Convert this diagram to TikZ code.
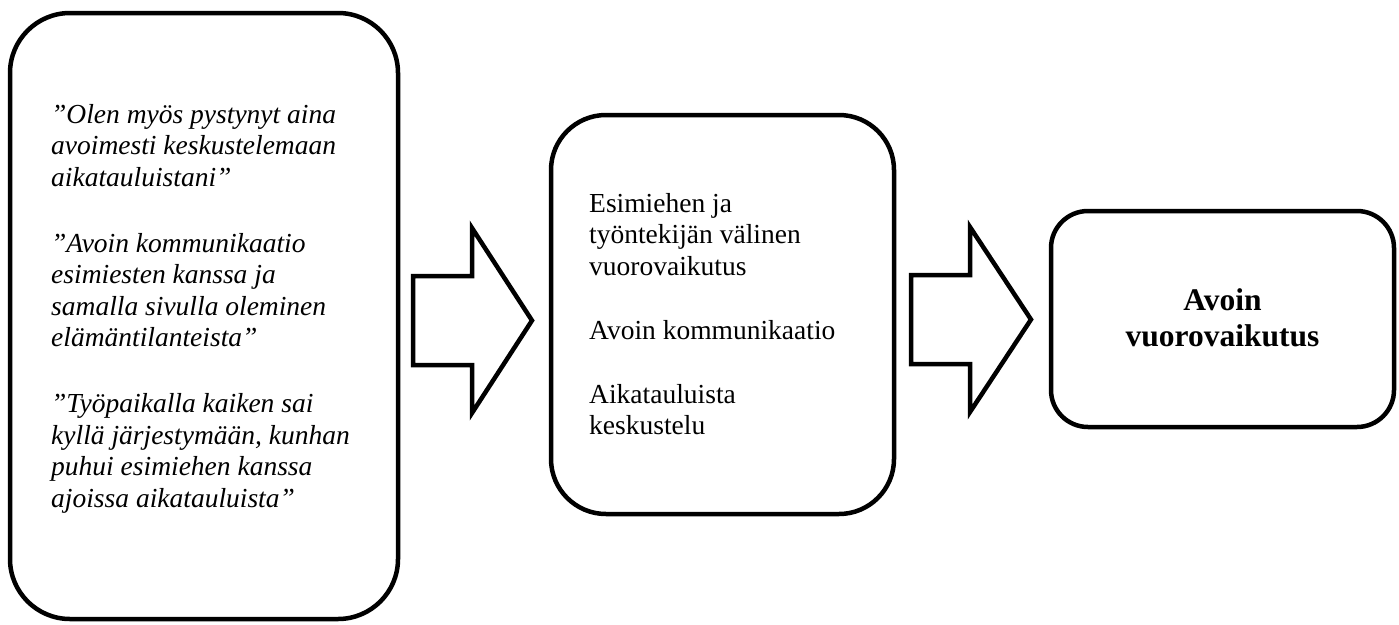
\documentclass[tikz,border=0pt]{standalone}
\usepackage{fontspec}
\setmainfont{Liberation Serif}
\begin{document}
\begin{tikzpicture}[x=1pt,y=-1pt,
  roundbox/.style={draw, line width=4.5pt, inner sep=0pt, fill=white},
  blockarrow/.style={draw, line width=4.5pt, miter limit=10, fill=white},
  quote/.style={inner sep=0pt, anchor=base west, align=left,
    font=\fontsize{27.5pt}{31.5pt}\selectfont\itshape},
  plain/.style={inner sep=0pt, anchor=base west, align=left,
    font=\fontsize{27.5pt}{31.5pt}\selectfont},
  result/.style={inner sep=0pt, anchor=base, align=center,
    font=\fontsize{31.5pt}{36pt}\selectfont\bfseries}]
  \useasboundingbox (0,0) rectangle (1399,624);

  % rounded boxes
  \node[roundbox, rounded corners=60pt, minimum width=388pt, minimum height=606pt]
    (quotes) at (204,316) {};
  \node[roundbox, rounded corners=55pt, minimum width=343pt, minimum height=399pt]
    (themes) at (722.5,314.5) {};
  \node[roundbox, rounded corners=37pt, minimum width=343pt, minimum height=216pt]
    (outcome) at (1222.5,319) {};

  % block arrows between the boxes
  \draw[blockarrow] (413,276) -- (472,276) -- (472,228) -- (532,320.5)
    -- (472,413) -- (472,365) -- (413,365) -- cycle;
  \draw[blockarrow] (911,275) -- (970,275) -- (970,227) -- (1031,319.5)
    -- (970,412) -- (970,364) -- (911,364) -- cycle;

  % texts (anchored at the baseline of their last line)
  \node[quote] (q) at (51,507) {”Olen myös pystynyt aina\\
    avoimesti keskustelemaan\\
    aikatauluistani”\\[34.5pt]
    ”Avoin kommunikaatio\\
    esimiesten kanssa ja\\
    samalla sivulla oleminen\\
    elämäntilanteista”\\[34.5pt]
    ”Työpaikalla kaiken sai\\
    kyllä järjestymään, kunhan\\
    puhui esimiehen kanssa\\
    ajoissa aikatauluista”};

  \node[plain] (t) at (589,434.5) {Esimiehen ja\\
    työntekijän välinen\\
    vuorovaikutus\\[32.5pt]
    Avoin kommunikaatio\\[32.5pt]
    Aikatauluista\\
    keskustelu};

  \node[result] (r) at (1222.5,346) {Avoin\\ vuorovaikutus};
\end{tikzpicture}
\end{document}
